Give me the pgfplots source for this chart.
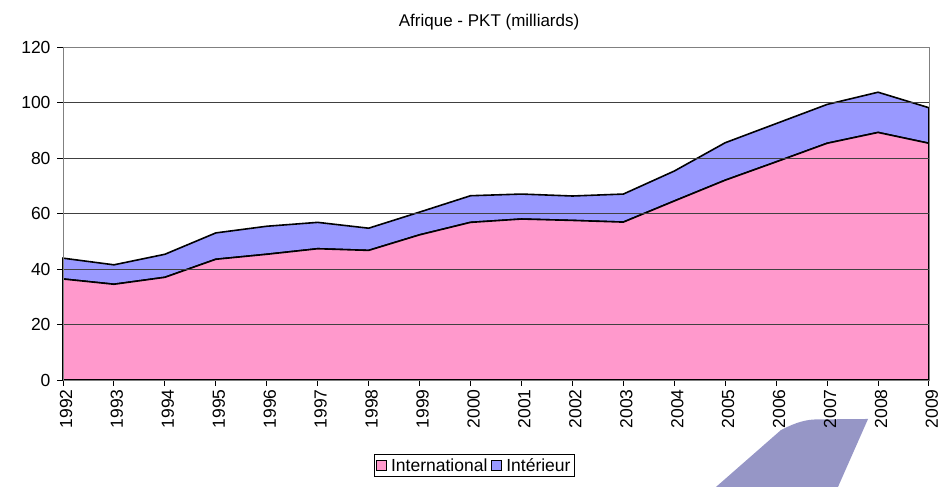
\documentclass[border=0pt]{standalone}
\usepackage{fontspec}
\setmainfont{Liberation Sans}
\usepackage{pgfplots}
\pgfplotsset{compat=1.18}

\definecolor{intl}{RGB}{255,153,204}
\definecolor{inter}{RGB}{153,153,255}
\definecolor{deco}{RGB}{150,150,198}

\begin{document}
\begin{tikzpicture}
\begin{axis}[
    scale only axis,
    width=866pt, height=333pt,
    xmin=1992, xmax=2009,
    ymin=0, ymax=120,
    xtick={1992,...,2009},
    ytick={0,20,...,120},
    stack plots=y,
    area style,
    clip=false,
    axis line style={draw=gray, line width=0.9pt},
    ymajorgrids,
    grid style={black!75, line width=0.9pt},
    tick align=outside,
    xtick pos=bottom, ytick pos=left,
    major tick length=6pt,
    tick style={black, line width=0.9pt},
    /pgf/number format/assume math mode=true,
    /pgf/number format/1000 sep={},
    ticklabel style={font=\fontsize{17.5}{20}\selectfont},
    yticklabel style={xshift=-3pt},
    xticklabel style={rotate=90, anchor=east, yshift=-3pt},
    title={Afrique - PKT (milliards)},
    title style={font=\fontsize{17}{20}\selectfont, anchor=base,
                 at={(rel axis cs:0.492,1.044)}},
    legend columns=2,
    legend style={at={(rel axis cs:0.475,-0.222)}, anchor=north,
                  draw=black, line width=0.9pt,
                  font=\fontsize{17.5}{20}\selectfont,
                  inner sep=2pt, column sep=2pt},
    legend image code/.code={
        \draw[#1, draw=black, line width=0.9pt] (0pt,-4.5pt) rectangle (10pt,5.5pt);},
]
\addplot[fill=intl, draw=black, line width=1.6pt] coordinates {
    (1992,36.4) (1993,34.5) (1994,37.0) (1995,43.5) (1996,45.3) (1997,47.3)
    (1998,46.7) (1999,52.3) (2000,56.8) (2001,58.0) (2002,57.5) (2003,56.9)
    (2004,64.5) (2005,72.0) (2006,78.6) (2007,85.3) (2008,89.2) (2009,85.3)
} \closedcycle;
\addlegendentry{International}
\addplot[fill=inter, draw=black, line width=1.6pt] coordinates {
    (1992,7.5) (1993,7.0) (1994,8.3) (1995,9.5) (1996,10.1) (1997,9.5)
    (1998,8.0) (1999,8.2) (2000,9.6) (2001,9.0) (2002,8.8) (2003,10.1)
    (2004,10.8) (2005,13.5) (2006,13.8) (2007,14.0) (2008,14.5) (2009,12.8)
} \closedcycle;
\addlegendentry{Intérieur}

% left and bottom axis lines are black, the rest of the frame is gray
\draw[black, line width=0.9pt] (rel axis cs:0,1) -- (rel axis cs:0,0) -- (rel axis cs:1,0);

% decorative shape in the lower right corner
\fill[deco] (rel axis cs:0.7540,-0.3213) -- (rel axis cs:0.8291,-0.1502)
    .. controls (rel axis cs:0.848,-0.125) and (rel axis cs:0.858,-0.12) .. (rel axis cs:0.8684,-0.1185)
    -- (rel axis cs:0.9296,-0.1171) -- (rel axis cs:0.8949,-0.3213) -- cycle;

\coordinate (bbl) at (rel axis cs:-0.07275,-0.3213);
\coordinate (btr) at (rel axis cs:1.01386,1.1411);
\end{axis}
\pgfresetboundingbox
\path[use as bounding box] (bbl) rectangle (btr);
\end{tikzpicture}
\end{document}
